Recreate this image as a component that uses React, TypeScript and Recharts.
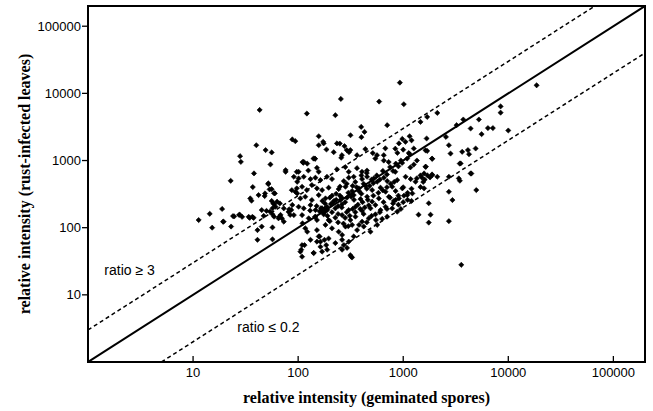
import {
  ReferenceArea,
  ReferenceDot,
  ReferenceLine,
  Scatter,
  ScatterChart,
  XAxis,
  YAxis,
} from "recharts";

// [geminated spores, rust-infected leaves] relative intensities
type Pair = [number, number];

const upperSpread: Pair[] = [
  [929, 14450], [255, 8260], [590, 7550], [1013, 6890], [43, 5660], [121, 5010],
  [226, 4730], [704, 3360], [398, 3170], [428, 2670], [315, 2380], [88, 2060],
  [94, 1940], [157, 2300], [173, 1900], [249, 1790], [276, 1640], [40, 1690],
  [49, 1430], [56, 1320], [28, 1160], [28.5, 955], [186, 1460], [218, 1330],
  [290, 1430], [305, 1330], [54.5, 875], [76, 680], [112, 925], [145, 1060],
  [38, 643], [22.8, 499], [37, 403], [52, 446], [53.5, 372], [42, 306],
  [48, 296], [35, 273], [36, 252], [18.9, 190], [14.4, 161], [24, 149],
  [27.8, 156], [29.3, 145], [33.8, 145], [36.7, 145], [11.3, 130], [15.2, 100],
  [23, 104], [19.3, 123], [48.4, 324], [60, 324], [91, 573], [98, 482],
  [101, 680], [144, 1072], [113, 955], [122, 900], [76, 720], [400, 2230],
  [234, 1800], [157, 1690], [175, 1800],
];

const leftTail: Pair[] = [
  [41, 92], [41, 66], [66, 145], [58, 231], [54, 173], [57, 158], [63, 244],
  [68, 155], [70, 138], [57, 101], [57, 67], [82, 188], [84, 155], [88, 218],
  [94, 343], [98, 324], [110, 116], [107, 47], [115, 55], [122, 87], [140, 42],
  [151, 62], [160, 74], [145, 145], [151, 130], [178, 66], [185, 55], [189, 47],
  [262, 66], [272, 55], [292, 50], [320, 37], [52, 457], [56, 374], [59, 326],
  [56, 250], [59, 223], [57, 194], [61, 205], [67, 230], [73, 194], [87, 362],
  [86, 184], [91, 154], [81, 172], [45, 183], [50, 178], [47, 150], [59, 146],
  [65, 138], [73, 123], [19.5, 123], [24.6, 147], [27.4, 155], [34.6, 140],
  [37.7, 140], [45, 104],
];

const upperCore: Pair[] = [
  [261, 1200], [257, 1100], [314, 1430], [363, 1200], [436, 1480], [513, 1290],
  [563, 1200], [653, 1200], [676, 1520], [841, 1500], [910, 1800], [980, 2100],
  [1050, 1900], [1150, 2300], [1200, 2000], [880, 1300], [1000, 1450], [1150, 1250],
  [543, 1070], [653, 1000], [727, 950], [110, 950], [140, 1070], [151, 780],
  [97, 680], [125, 710], [157, 680], [234, 740], [281, 800], [303, 680],
  [363, 770], [405, 680], [452, 710], [841, 680], [977, 920], [1090, 1070],
  [1170, 790], [1260, 870], [1350, 1000], [1130, 1290],
];

const denseCore: Pair[] = [
  [101, 542], [113, 573], [131, 530], [146, 555], [163, 512], [188, 573],
  [210, 530], [272, 494], [303, 555], [338, 573], [406, 530], [453, 573],
  [525, 542], [565, 483], [654, 555], [704, 494], [877, 512], [1054, 573],
  [1177, 530], [1310, 483],
  [97, 385], [109, 407], [121, 363], [135, 431], [151, 385], [169, 363],
  [195, 394], [243, 376], [282, 407], [326, 352], [378, 385], [437, 420],
  [506, 363], [608, 394], [679, 343], [786, 407], [846, 352], [980, 385],
  [1093, 306], [1221, 324],
  [105, 273], [117, 289], [135, 258], [157, 306], [182, 273], [210, 300],
  [252, 258], [292, 280], [338, 306], [392, 267], [453, 289], [506, 244],
  [586, 273], [730, 289], [815, 250], [910, 273], [1016, 300],
  [101, 205], [113, 194], [131, 217], [146, 183], [169, 194], [188, 205],
  [226, 194], [262, 223], [303, 183], [351, 205], [406, 178], [488, 194],
  [544, 217], [608, 183], [679, 205], [786, 194], [877, 173],
  [109, 154], [126, 138], [146, 146], [175, 158], [195, 130], [226, 141],
  [262, 154], [314, 130], [351, 146], [406, 123], [470, 138], [544, 158],
  [630, 135], [704, 146],
  [117, 98], [151, 92], [182, 110], [210, 98], [243, 87], [282, 104],
  [326, 110], [364, 92], [421, 104], [488, 87], [565, 110],
  [109, 55], [131, 66], [157, 74], [163, 62], [195, 69], [226, 59],
  [262, 78], [303, 62], [338, 74],
  [105, 44], [109, 37], [141, 42], [163, 52], [169, 44], [262, 47],
  [314, 39], [326, 36],
  [170, 180], [178, 190], [182, 175], [165, 195], [175, 170], [190, 185],
  [160, 175], [205, 225], [230, 260], [250, 300], [215, 240],
];

const centreFill: Pair[] = [
  [220, 250], [240, 210], [260, 280], [280, 240], [300, 330], [320, 290],
  [340, 260], [360, 400], [380, 350], [400, 320], [420, 450], [450, 380],
  [480, 420], [500, 520], [520, 460], [560, 600], [600, 520], [640, 700],
  [700, 620], [750, 800], [800, 700], [850, 900], [900, 820], [950, 1000],
  [260, 200], [290, 170], [330, 190], [370, 220], [410, 240], [460, 260],
  [520, 300], [580, 330], [640, 360], [700, 400], [760, 450], [820, 480],
  [180, 230], [200, 280], [230, 320], [150, 210], [170, 250], [130, 180],
  [190, 150], [210, 170], [240, 160], [280, 140], [310, 150], [350, 170],
  [390, 190], [430, 200], [470, 215], [240, 120], [270, 115], [300, 105],
  [200, 125], [330, 420], [290, 450], [250, 410], [350, 480], [400, 600],
  [450, 650],
];

const lowerBand: Pair[] = [
  [500, 150], [600, 170], [700, 190], [800, 230], [650, 240], [450, 120],
  [380, 110], [550, 130], [750, 280], [900, 300], [1100, 330], [1000, 400],
  [1200, 380], [850, 260], [420, 160],
];

const rightSpread: Pair[] = [
  [18600, 13200], [8450, 6400], [8450, 5160], [3730, 4080], [3220, 3360],
  [2110, 5120], [1690, 4460], [1460, 3760], [5250, 4080], [4380, 3000],
  [6400, 3040], [7130, 3040], [10000, 2800], [5570, 2470], [2550, 2250],
  [1670, 2130], [4890, 1510], [2720, 1690], [2820, 1270], [3640, 1350],
  [4130, 1430], [4230, 1240], [1890, 1060], [1690, 1390], [1260, 1510],
  [3520, 905], [4380, 643], [2720, 573], [3380, 542], [3460, 500],
  [1890, 607], [2110, 573], [1640, 807], [1580, 643], [1460, 403],
  [1580, 385], [1345, 542], [4960, 363], [2720, 343], [2940, 258],
  [1750, 231], [1400, 156], [1820, 156], [1750, 119], [2720, 125],
  [3570, 28], [1630, 1420], [1880, 1070], [1630, 810], [1880, 620],
  [3450, 900], [4450, 640], [1500, 560], [1600, 520], [1550, 480],
  [1700, 600], [1800, 560], [1460, 600], [900, 220], [1000, 240],
  [1100, 260], [1200, 250], [950, 190],
];

const axisTicks = [10, 100, 1000, 10000, 100000];
const axisDomain: [number, number] = [1, 200000];
const ratios = [1, 3, 0.2];

const points = [
  ...upperSpread,
  ...leftTail,
  ...upperCore,
  ...denseCore,
  ...centreFill,
  ...lowerBand,
  ...rightSpread,
].map(([spores, leaves]) => ({ spores, leaves }));

const font = "'Liberation Sans', Arial, sans-serif";
const serif = "'Liberation Serif', 'Times New Roman', serif";

function ratioSegment(r: number) {
  const [lo, hi] = axisDomain;
  const x1 = Math.max(lo, lo / r);
  const x2 = Math.min(hi, hi / r);
  return [
    { x: x1, y: x1 * r },
    { x: x2, y: x2 * r },
  ];
}

const Marker = (p: any) => {
  const { cx, cy } = p;
  const s = 2.6;
  return (
    <path
      d={`M${cx},${cy - s}L${cx + s},${cy}L${cx},${cy + s}L${cx - s},${cy}Z`}
      fill="#000"
      stroke="#000"
      strokeWidth={0.6}
    />
  );
};

const XTick = (p: any) => {
  const { x, y, payload } = p;
  return (
    <g>
      <line x1={x} x2={x} y1={y} y2={y - 6} stroke="#000" strokeWidth={1.3} />
      <text x={x} y={y + 15} textAnchor="middle" fontSize={13} fontFamily={font} fill="#000">
        {payload.value}
      </text>
    </g>
  );
};

export default function App() {
  return (
    <div style={{ position: "absolute", left: 0, top: 0, width: 653, height: 411, background: "#fff" }}>
      <ScatterChart width={653} height={411} margin={{ top: 6, right: 8, bottom: 0, left: 0 }}>
        <ReferenceArea
          x1={axisDomain[0]}
          x2={axisDomain[1]}
          y1={axisDomain[0]}
          y2={axisDomain[1]}
          fill="none"
          stroke="#000"
          strokeWidth={2}
          ifOverflow="visible"
        />
        <XAxis
          type="number"
          dataKey="spores"
          scale="log"
          domain={axisDomain}
          allowDataOverflow
          ticks={axisTicks}
          interval={0}
          height={49}
          tickSize={0}
          tickMargin={0}
          tickLine={false}
          tick={<XTick />}
          axisLine={{ stroke: "#000", strokeWidth: 2 }}
          label={{
            content: (lp: any) => {
              const vb = lp.viewBox;
              return (
                <text
                  x={vb.x + vb.width / 2}
                  y={vb.y + 41}
                  textAnchor="middle"
                  fontSize={16}
                  fontWeight="bold"
                  fontFamily={serif}
                  fill="#000"
                >
                  relative intensity (geminated spores)
                </text>
              );
            },
          }}
        />
        <YAxis
          type="number"
          dataKey="leaves"
          scale="log"
          domain={axisDomain}
          allowDataOverflow
          ticks={axisTicks}
          interval={0}
          width={88}
          tickSize={6}
          tickMargin={1}
          tickLine={{ stroke: "#000", strokeWidth: 1.3 }}
          tick={{ fontSize: 13, fill: "#000", fontFamily: font }}
          axisLine={{ stroke: "#000", strokeWidth: 2 }}
          label={{
            content: (lp: any) => {
              const vb = lp.viewBox;
              const cx = vb.x + 24;
              const cy = vb.y + vb.height / 2;
              return (
                <text
                  x={cx}
                  y={cy}
                  transform={`rotate(-90 ${cx} ${cy})`}
                  textAnchor="middle"
                  dominantBaseline="central"
                  fontSize={16}
                  fontWeight="bold"
                  fontFamily={serif}
                  fill="#000"
                >
                  relative intensity (rust-infected leaves)
                </text>
              );
            },
          }}
        />
        {ratios.map((r) => (
          <ReferenceLine
            key={r}
            segment={ratioSegment(r)}
            stroke="#000"
            strokeWidth={r === 1 ? 2 : 1.5}
            strokeDasharray={r === 1 ? undefined : "4 3"}
            ifOverflow="hidden"
          />
        ))}
        <Scatter data={points} shape={<Marker />} isAnimationActive={false} />
        <ReferenceDot
          x={1.4}
          y={23.5}
          r={1}
          fill="none"
          stroke="none"
          label={{ value: "ratio ≥ 3", position: "right", offset: 0, fontSize: 14, fill: "#000", fontFamily: font }}
        />
        <ReferenceDot
          x={25.8}
          y={3.35}
          r={1}
          fill="none"
          stroke="none"
          label={{ value: "ratio ≤ 0.2", position: "right", offset: 0, fontSize: 14, fill: "#000", fontFamily: font }}
        />
      </ScatterChart>
    </div>
  );
}
